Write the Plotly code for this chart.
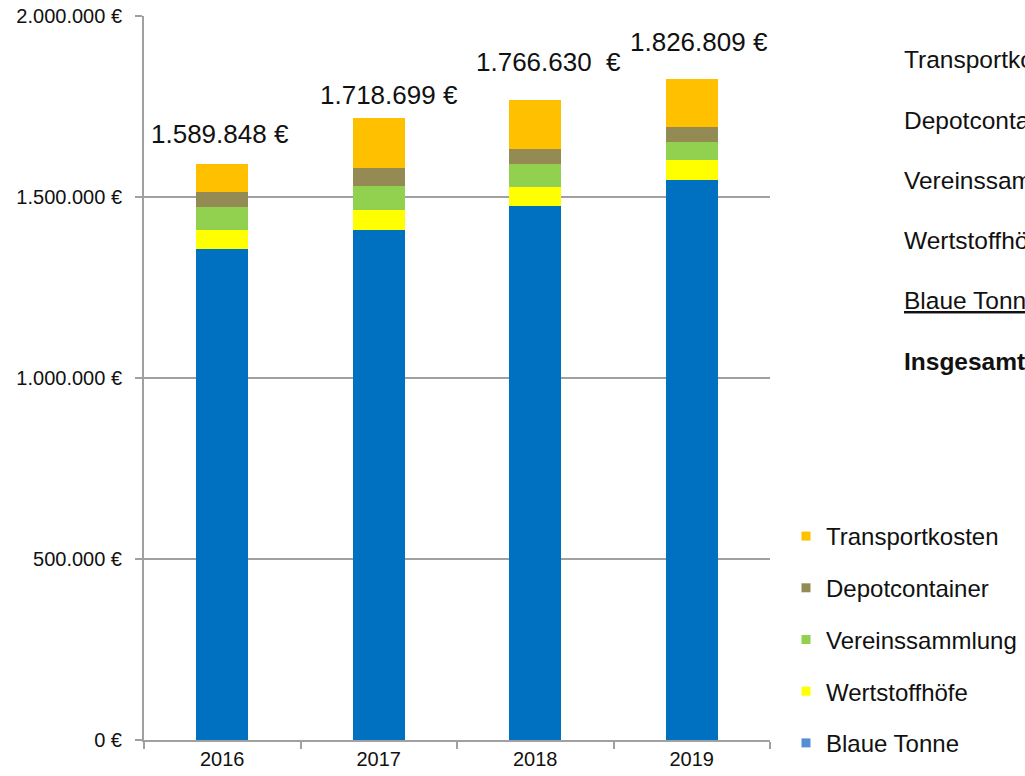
import plotly.graph_objects as go

years = ["2016", "2017", "2018", "2019"]
blaue_tonne = [1357000, 1410000, 1475000, 1547000]
wertstoffhoefe = [53000, 55000, 54000, 56000]
vereinssammlung = [63000, 66000, 62000, 50000]
depotcontainer = [42000, 49000, 41000, 40000]
transportkosten = [74848, 138699, 134630, 133809]
totals = [1589848, 1718699, 1766630, 1826809]
total_labels = ["1.589.848 €", "1.718.699 €", "1.766.630\u00a0\u00a0€", "1.826.809 €"]
y_ticks = [0, 500000, 1000000, 1500000, 2000000]
y_tick_labels = ["0 €", "500.000 €", "1.000.000 €", "1.500.000 €", "2.000.000 €"]
side_labels = ["Transportkosten", "Depotcontainer", "Vereinssammlung",
               "Wertstoffhöfe", "<u>Blaue Tonne</u>", "<b>Insgesamt</b>"]

series = [
    ("Blaue Tonne", blaue_tonne, "#0070C0", "#558ED5"),
    ("Wertstoffhöfe", wertstoffhoefe, "#FFFF00", "#FFFF00"),
    ("Vereinssammlung", vereinssammlung, "#92D050", "#92D050"),
    ("Depotcontainer", depotcontainer, "#948A54", "#948A54"),
    ("Transportkosten", transportkosten, "#FFC000", "#FFC000"),
]

FONT = "Liberation Sans, Arial, sans-serif"
fig = go.Figure()
for name, vals, col, _ in series:
    fig.add_trace(go.Bar(x=years, y=vals, name=name, marker_color=col,
                         marker_line_width=0, showlegend=False))

# legend entries (top to bottom as in reference)
for name, vals, _, lcol in reversed(series):
    fig.add_trace(go.Scatter(x=[years[0]], y=[None], mode="markers", name=name,
                             legendgroup=name, hoverinfo="skip",
                             marker=dict(symbol="square", size=9, color=lcol)))

for i, (tot, lab, xs, ys) in enumerate(zip(totals, total_labels,
                                           [-2, 10, 13, 7], [30, 23, 38, 37])):
    fig.add_annotation(x=i, y=tot, text=lab, showarrow=False,
                       xanchor="center", yanchor="middle", xshift=xs, yshift=ys,
                       font=dict(family=FONT, size=26, color="#111111"))

for i, t in enumerate(side_labels):
    fig.add_annotation(xref="paper", yref="paper", x=(902 - 144) / 626,
                       y=(740 - (60 + i * 60.2)) / 724, text=t, showarrow=False,
                       xanchor="left", yanchor="middle",
                       font=dict(family=FONT, size=24.5, color="#111111"))

fig.update_layout(
    width=1025, height=776,
    margin=dict(l=144, r=255, t=16, b=36, autoexpand=False),
    paper_bgcolor="white", plot_bgcolor="white",
    barmode="stack", bargap=0.668,
    font=dict(family=FONT, color="#222222"),
    legend=dict(x=(786 - 144) / 626, y=(740 - 514) / 724, xanchor="left", yanchor="top",
                font=dict(family=FONT, size=24, color="#111111"),
                tracegroupgap=17.5, bgcolor="rgba(0,0,0,0)"),
)
fig.update_xaxes(type="category", categoryorder="array", categoryarray=years,
                 range=[-0.5, 3.5], showline=True, linecolor="#A0A0A0", linewidth=2,
                 ticks="outside", tickson="boundaries", ticklen=7, tickcolor="#A0A0A0",
                 tickwidth=1.5, showgrid=False, tickangle=0,
                 tickfont=dict(size=20, color="#111111"))
fig.update_yaxes(range=[0, 2000000], tickvals=y_ticks, ticktext=y_tick_labels,
                 showline=True, linecolor="#A0A0A0", linewidth=2,
                 ticks="outside", ticklen=7, tickcolor="#A0A0A0", tickwidth=1.5,
                 showgrid=True, gridcolor="#A0A0A0", gridwidth=1.5, zeroline=False,
                 ticklabelstandoff=9, ticklabeloverflow="allow",
                 tickfont=dict(size=20, color="#111111"))

fig.write_html("out.html", config={"displayModeBar": False},
               post_script="document.body.style.margin='0';document.body.style.overflow='hidden';")
